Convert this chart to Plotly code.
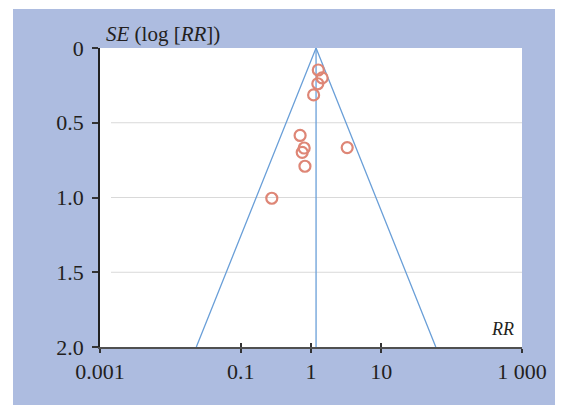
import math
import plotly.graph_objects as go

# ---- data ----
rr = [1.27, 1.44, 1.25, 1.09, 0.70, 3.27, 0.80, 0.75, 0.82, 0.277]
se = [0.147, 0.200, 0.239, 0.314, 0.585, 0.666, 0.669, 0.698, 0.791, 1.005]
pooled_rr = 1.18
se_max = 2.0
x_tickvals = [0.001, 0.1, 1, 10, 1000]
x_ticktext = ["0.001", "0.1", "1", "10", "1 000"]
y_tickvals = [0, 0.5, 1.0, 1.5, 2.0]
y_ticktext = ["0", "0.5", "1.0", "1.5", "2.0"]
grid_vals = [0.5, 1.0, 1.5]

FONT = "Liberation Serif"
BLUE_BG = "#adbce0"
LINE = "#6a9fd8"
MARK = "#de8676"
TXT = "#231f20"

z = 1.96
funnel_x = [pooled_rr * math.exp(-z * se_max), pooled_rr, pooled_rr * math.exp(z * se_max)]
funnel_y = [se_max, 0, se_max]

fig = go.Figure()
fig.add_trace(go.Scatter(x=funnel_x, y=funnel_y, mode="lines",
                         line=dict(color=LINE, width=1.3), hoverinfo="skip", showlegend=False))
fig.add_trace(go.Scatter(x=[pooled_rr, pooled_rr], y=[0, se_max], mode="lines",
                         line=dict(color=LINE, width=1.3), hoverinfo="skip", showlegend=False))
fig.add_trace(go.Scatter(x=rr, y=se, mode="markers",
                         marker=dict(symbol="circle-open", size=11, color=MARK,
                                     line=dict(color=MARK, width=2.2)),
                         showlegend=False))
# invisible trace to carry the overlay axis (inner tick marks)
fig.add_trace(go.Scatter(x=[1], y=[1], xaxis="x2", mode="markers",
                         marker=dict(opacity=0), hoverinfo="skip", showlegend=False))

W, H = 555, 397
ml, mr, mt, mb = 92, 41, 40, 58
pw = W - ml - mr
ph = H - mt - mb

shapes = [
    dict(type="rect", xref="paper", yref="paper",
         x0=(5 - ml) / pw, x1=1.5,
         y0=-1.0, y1=((H - mb) - 1) / ph,
         fillcolor=BLUE_BG, line=dict(width=0), layer="below"),
    dict(type="rect", xref="paper", yref="paper", x0=0, x1=1, y0=0, y1=1,
         fillcolor="white", line=dict(width=0), layer="below"),
]
for g in grid_vals:
    shapes.append(dict(type="line", xref="paper", yref="y", x0=11 / pw, x1=1, y0=g, y1=g,
                       line=dict(color="#d9d9d9", width=1), layer="below"))

fig.update_layout(
    width=W, height=H,
    margin=dict(l=ml, r=mr, t=mt, b=mb, pad=0),
    paper_bgcolor="white", plot_bgcolor="white",
    font=dict(family=FONT, size=22, color=TXT),
    shapes=shapes,
    xaxis=dict(type="log", range=[-3, 3], tickvals=x_tickvals, ticktext=x_ticktext,
               showgrid=False, zeroline=False, showline=True, linecolor="#505050", linewidth=2,
               ticks="outside", ticklen=4, tickwidth=1.5, tickcolor="#333",
               tickfont=dict(family=FONT, size=22, color=TXT)),
    xaxis2=dict(type="log", range=[-3, 3], tickvals=x_tickvals, overlaying="x", anchor="y",
                side="bottom", showticklabels=False, showgrid=False, zeroline=False,
                showline=False, ticks="inside", ticklen=4, tickwidth=1.5, tickcolor="#333"),
    yaxis=dict(range=[2, 0], tickvals=y_tickvals, ticktext=y_ticktext,
               showgrid=False, zeroline=False, showline=True, linecolor="#222", linewidth=1.5,
               ticks="outside", ticklen=6, tickwidth=1.5, tickcolor="#333",
               ticklabelstandoff=4,
               tickfont=dict(family=FONT, size=22, color=TXT)),
    annotations=[
        dict(xref="paper", yref="paper", x=0.01, y=1.0, xanchor="left", yanchor="bottom",
             text="<i>SE</i> (log [<i>RR</i>])", showarrow=False,
             font=dict(family=FONT, size=21, color=TXT)),
        dict(xref="paper", yref="paper", x=0.985, y=0.02, xanchor="right", yanchor="bottom",
             text="<i>RR</i>", showarrow=False,
             font=dict(family=FONT, size=18, color=TXT)),
    ],
)

fig.write_html("out.html")
